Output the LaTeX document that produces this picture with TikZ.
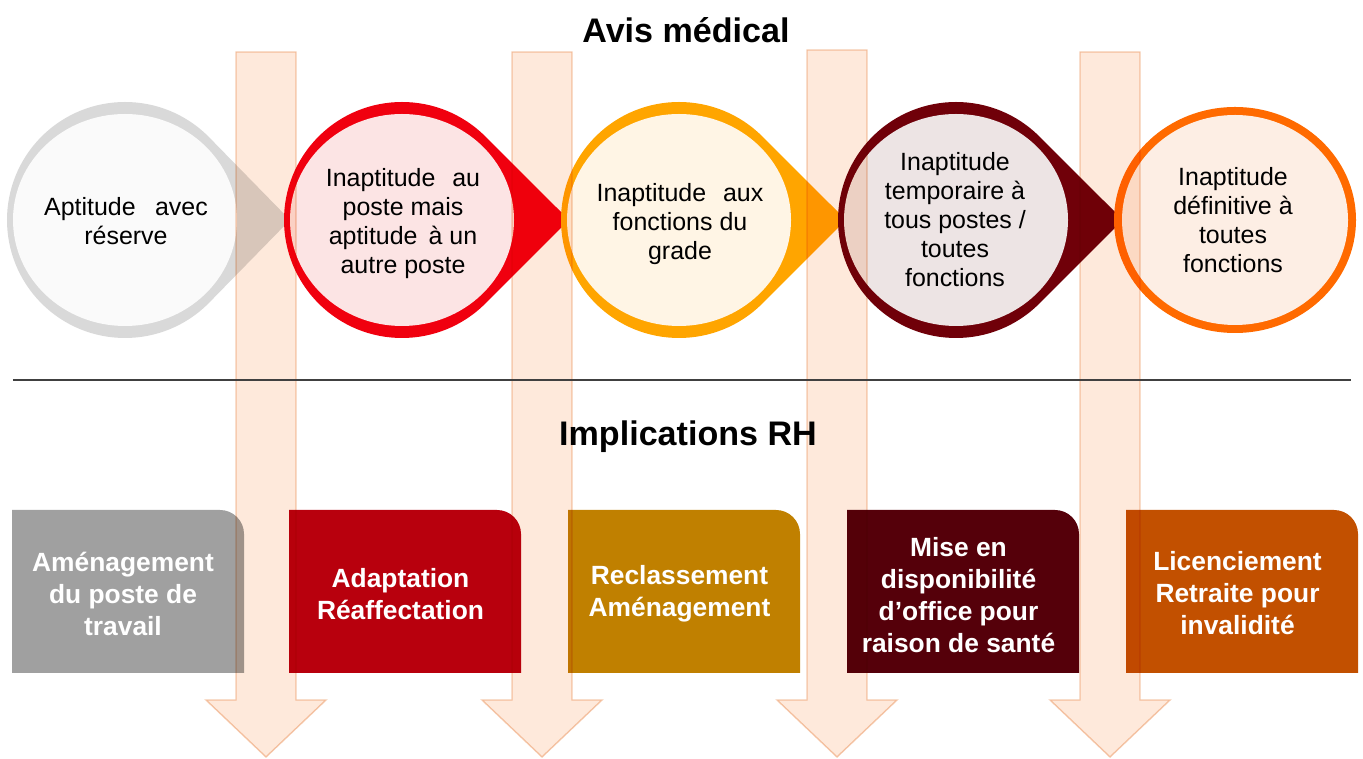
\documentclass[tikz,border=0pt]{standalone}
\usepackage{fontspec}
\setmainfont{Liberation Sans}

\definecolor{ringgray}{HTML}{D9D9D9}
\definecolor{fillgray}{HTML}{FAFAFA}
\definecolor{ringred}{HTML}{F0000F}
\definecolor{fillred}{HTML}{FCE4E4}
\definecolor{ringamber}{HTML}{FFA500}
\definecolor{fillamber}{HTML}{FFF5E5}
\definecolor{ringdark}{HTML}{700009}
\definecolor{filldark}{HTML}{EDE4E4}
\definecolor{ringorange}{HTML}{FF6A00}
\definecolor{fillorange}{HTML}{FDEEE4}
\definecolor{boxgray}{HTML}{A0A0A0}
\definecolor{boxred}{HTML}{B8000D}
\definecolor{boxamber}{HTML}{C08000}
\definecolor{boxdark}{HTML}{55000A}
\definecolor{boxorange}{HTML}{C25000}
\definecolor{arrowfill}{HTML}{FEE9DB}
\definecolor{arrowline}{HTML}{F5CDB2}
\definecolor{rulegray}{HTML}{404040}

\begin{document}
\begin{tikzpicture}[
    circtext/.style={align=center, inner sep=0pt, text=black,
      font=\fontsize{14.2}{16.5}\selectfont},
    boxtext/.style={align=center, inner sep=0pt, text=white,
      font=\fontsize{15}{18.2}\selectfont\bfseries},
    titletext/.style={inner sep=0pt, text=black,
      font=\fontsize{19.4}{23}\selectfont\bfseries},
    downarrow/.style={fill=arrowfill, draw=arrowline, line width=0.8pt}
  ]
      \useasboundingbox (0,0) rectangle (27.26,15.16);

      % avis medical: drops
      \begin{scope}[shift={(2.50,10.76)}]
        \fill[ringgray] (45:2.36) arc[start angle=45, end angle=315, radius=2.36] -- (0:3.3) -- cycle;
        \fill[fillgray] (0:0) ellipse [x radius=2.24, y radius=2.12];
      \end{scope}
      \begin{scope}[shift={(8.04,10.76)}]
        \fill[ringred] (45:2.36) arc[start angle=45, end angle=315, radius=2.36] -- (0:3.34) -- cycle;
        \fill[fillred] (0:0) ellipse [x radius=2.24, y radius=2.12];
      \end{scope}
      \begin{scope}[shift={(13.58,10.76)}]
        \fill[ringamber] (45:2.36) arc[start angle=45, end angle=315, radius=2.36] -- (0:3.34) -- cycle;
        \fill[fillamber] (0:0) ellipse [x radius=2.24, y radius=2.12];
      \end{scope}
      \begin{scope}[shift={(19.12,10.76)}]
        \fill[ringdark] (45:2.36) arc[start angle=45, end angle=315, radius=2.36] -- (0:3.34) -- cycle;
        \fill[filldark] (0:0) ellipse [x radius=2.24, y radius=2.12];
      \end{scope}
      \begin{scope}[shift={(24.70,10.76)}]
        \fill[ringorange] (0:0) ellipse [x radius=2.42, y radius=2.26];
        \fill[fillorange] (0:0) ellipse [x radius=2.26, y radius=2.10];
      \end{scope}

      % implications RH: boxes
      \fill[boxgray] (0.24,1.70) -- (0.24,4.96) [rounded corners=0.48cm] -- (4.88,4.96) [sharp corners] -- (4.88,1.70) -- cycle;
      \fill[boxred] (5.78,1.70) -- (5.78,4.96) [rounded corners=0.48cm] -- (10.42,4.96) [sharp corners] -- (10.42,1.70) -- cycle;
      \fill[boxamber] (11.36,1.70) -- (11.36,4.96) [rounded corners=0.48cm] -- (16.00,4.96) [sharp corners] -- (16.00,1.70) -- cycle;
      \fill[boxdark] (16.94,1.70) -- (16.94,4.96) [rounded corners=0.48cm] -- (21.58,4.96) [sharp corners] -- (21.58,1.70) -- cycle;
      \fill[boxorange] (22.52,1.70) -- (22.52,4.96) [rounded corners=0.48cm] -- (27.16,4.96) [sharp corners] -- (27.16,1.70) -- cycle;

      % big arrows down, laid over the shapes
      \begin{scope}[blend mode=multiply]
        \path[downarrow] (4.72,14.12) -- (5.92,14.12) -- (5.92,1.16) -- (6.52,1.16) -- (5.32,0.02) -- (4.12,1.16) -- (4.72,1.16) -- cycle;
        \path[downarrow] (10.24,14.12) -- (11.44,14.12) -- (11.44,1.16) -- (12.04,1.16) -- (10.84,0.02) -- (9.64,1.16) -- (10.24,1.16) -- cycle;
        \path[downarrow] (16.14,14.16) -- (17.34,14.16) -- (17.34,1.16) -- (17.94,1.16) -- (16.74,0.02) -- (15.54,1.16) -- (16.14,1.16) -- cycle;
        \path[downarrow] (21.60,14.12) -- (22.80,14.12) -- (22.80,1.16) -- (23.40,1.16) -- (22.20,0.02) -- (21.00,1.16) -- (21.60,1.16) -- cycle;
      \end{scope}

      % texts
      \node[titletext] (avis) at (13.72,14.56) {Avis médical};
      \node[circtext] (c1) at (2.52,10.73) {Aptitude\hspace{0.5em} avec\\réserve};
      \node[circtext] (c2) at (8.06,10.68) {Inaptitude\hspace{0.4em} au\\poste mais\\aptitude\, à un\\autre poste};
      \node[circtext] (c3) at (13.60,10.68) {Inaptitude\hspace{0.4em} aux\\fonctions du\\grade};
      \node[circtext] (c4) at (19.10,10.76) {Inaptitude\\temporaire à\\tous postes /\\toutes\\fonctions};
      \node[circtext] (c5) at (24.66,10.76) {Inaptitude\\définitive à\\toutes\\fonctions};

      \draw[rulegray, line width=1pt] (0.26,7.56) -- (27.02,7.56);
      \node[titletext] (impl) at (13.76,6.42) {Implications RH};

      \node[boxtext] (b1) at (2.46,3.29) {Aménagement\\du poste de\\travail};
      \node[boxtext] (b2) at (8.01,3.27) {Adaptation\\Réaffectation};
      \node[boxtext] (b3) at (13.59,3.29) {Reclassement\\Aménagement};
      \node[boxtext] (b4) at (19.17,3.26) {Mise en\\disponibilité\\d’office pour\\raison de santé};
      \node[boxtext] (b5) at (24.75,3.29) {Licenciement\\Retraite pour\\invalidité};
\end{tikzpicture}
\end{document}
